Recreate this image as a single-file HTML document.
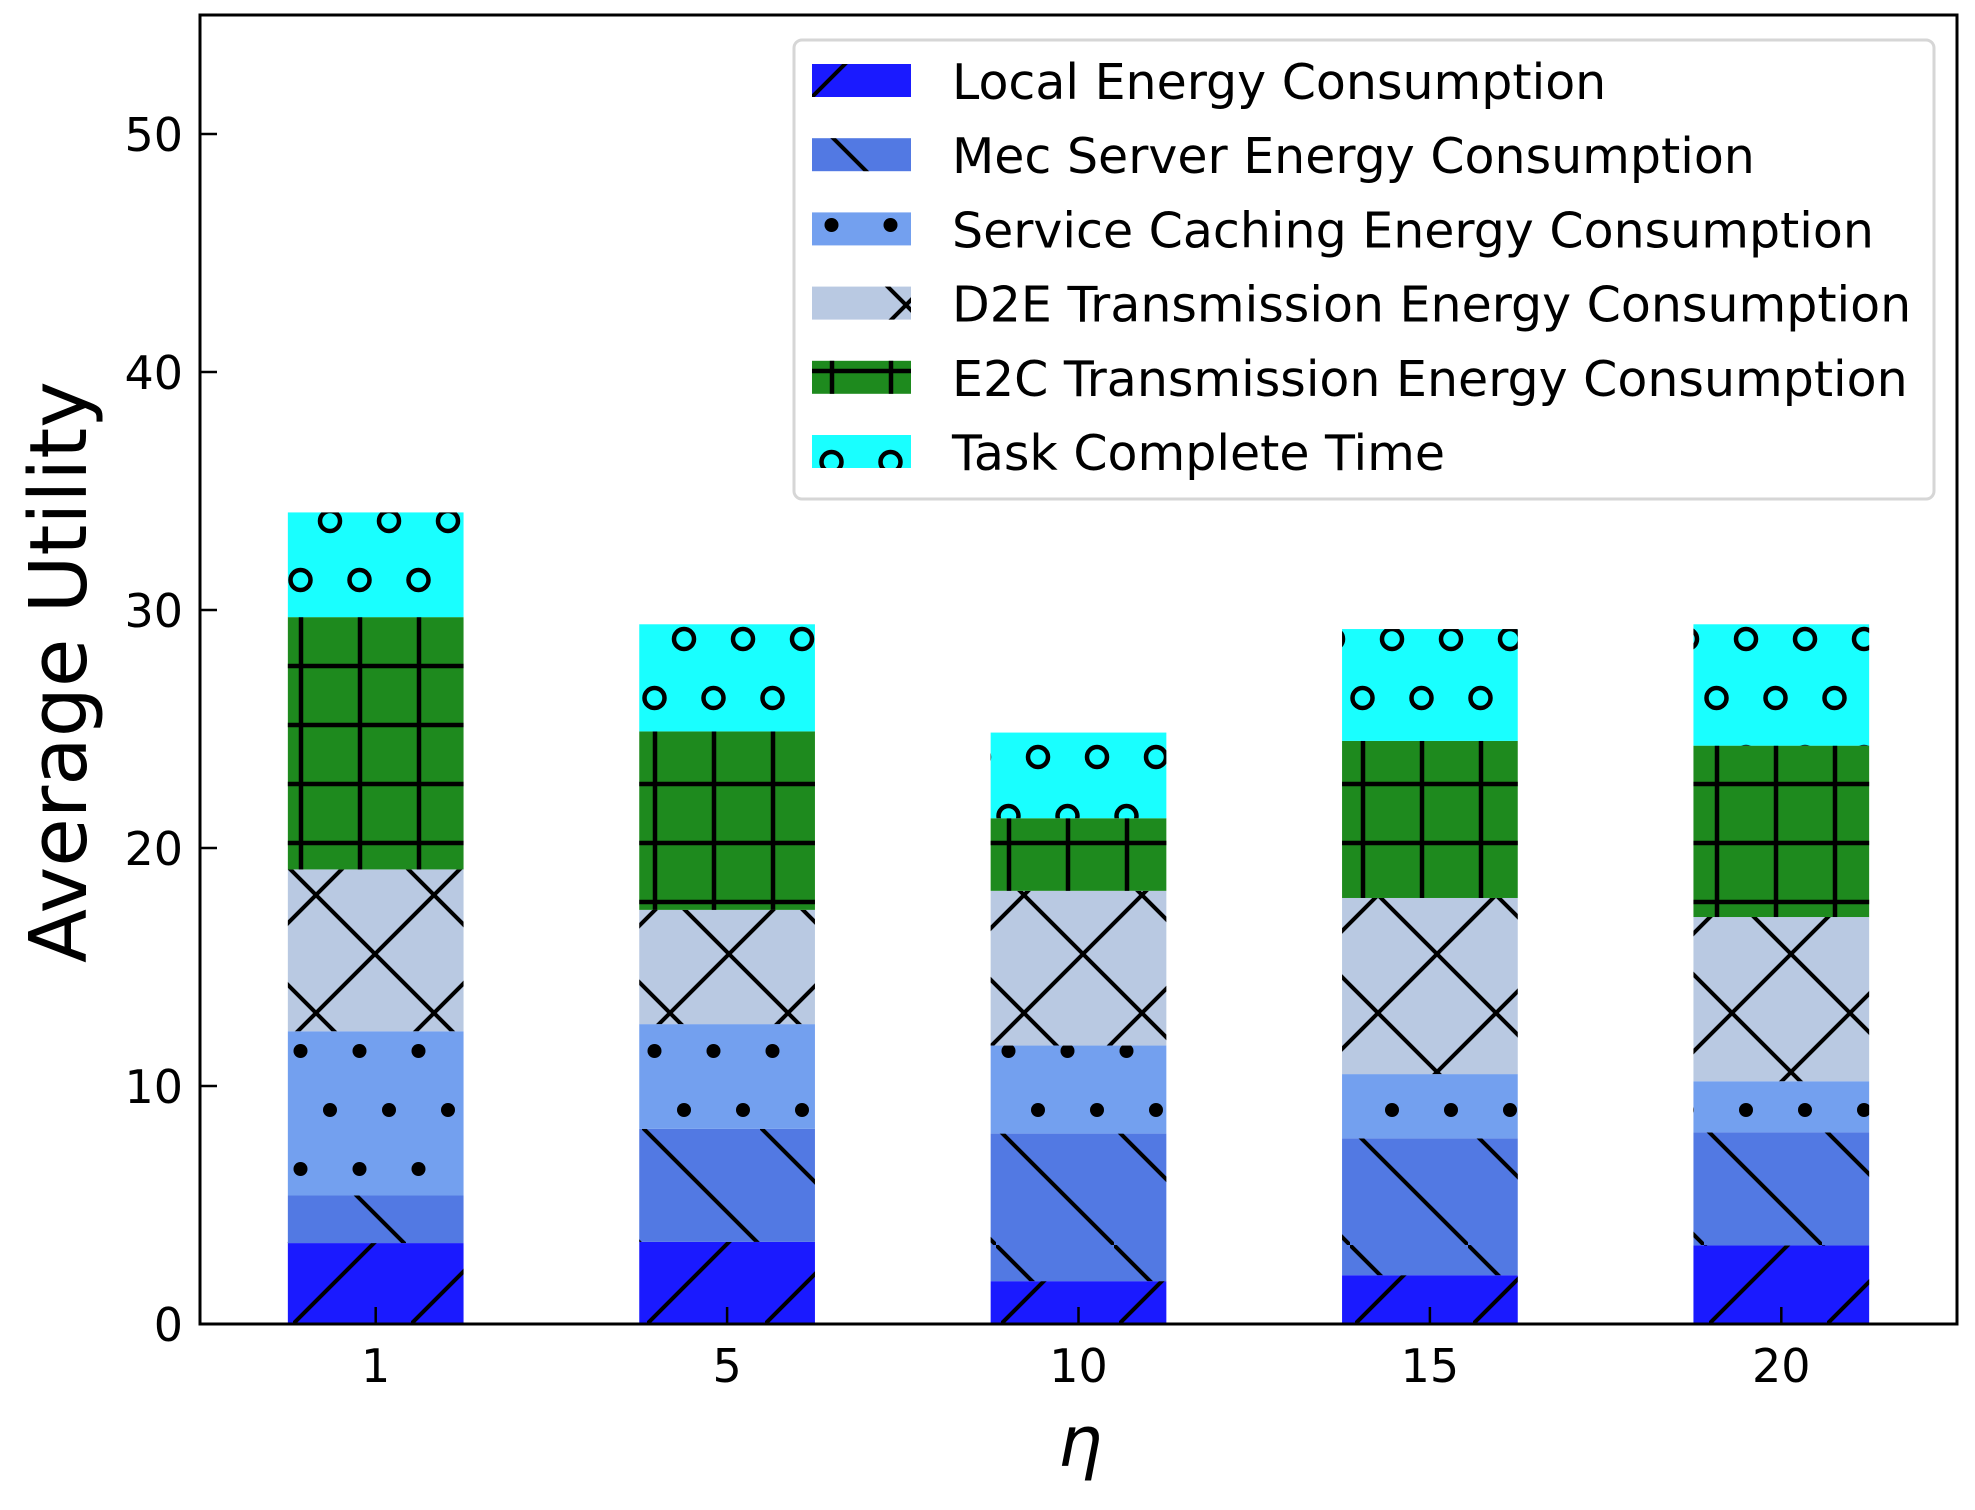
<!DOCTYPE html>
<html><head><meta charset="utf-8"><style>
body{margin:0;background:#fff;}
svg{display:block;font-family:"DejaVu Sans","Liberation Sans",sans-serif;}
</style></head><body>
<svg id="chart" width="1975" height="1510" viewBox="0 0 1975 1510" xmlns="http://www.w3.org/2000/svg">
<defs>
<pattern id="p-slash" patternUnits="userSpaceOnUse" x="293" y="1206" width="118" height="118">
<line x1="-10" y1="128" x2="128" y2="-10" stroke="#000" stroke-width="4"/>
</pattern>
<pattern id="p-back" patternUnits="userSpaceOnUse" x="406" y="1245" width="118" height="118">
<line x1="-10" y1="-10" x2="128" y2="128" stroke="#000" stroke-width="4"/>
</pattern>
<pattern id="p-dots" patternUnits="userSpaceOnUse" x="330" y="1110" width="59" height="118">
<circle cx="0" cy="0" r="7"/><circle cx="59" cy="0" r="7"/><circle cx="0" cy="118" r="7"/><circle cx="59" cy="118" r="7"/>
<circle cx="29.5" cy="59" r="7"/>
</pattern>
<pattern id="p-x" patternUnits="userSpaceOnUse" x="316" y="895" width="118" height="118">
<line x1="-10" y1="128" x2="128" y2="-10" stroke="#000" stroke-width="4"/>
<line x1="-10" y1="-10" x2="128" y2="128" stroke="#000" stroke-width="4"/>
</pattern>
<pattern id="p-plus" patternUnits="userSpaceOnUse" x="301" y="666" width="59" height="59">
<line x1="0" y1="0" x2="0" y2="59" stroke="#000" stroke-width="4.5"/>
<line x1="0" y1="0" x2="59" y2="0" stroke="#000" stroke-width="4.5"/>
<line x1="59" y1="0" x2="59" y2="59" stroke="#000" stroke-width="4.5"/>
<line x1="0" y1="59" x2="59" y2="59" stroke="#000" stroke-width="4.5"/>
</pattern>
<pattern id="p-o" patternUnits="userSpaceOnUse" x="330" y="521" width="59" height="118">
<g fill="none" stroke="#000" stroke-width="4.5">
<circle cx="0" cy="0" r="10"/><circle cx="59" cy="0" r="10"/><circle cx="0" cy="118" r="10"/><circle cx="59" cy="118" r="10"/>
<circle cx="29.5" cy="59" r="10"/></g>
</pattern>
</defs>
<g id="bars"></g>
<g id="axes"></g>
<g id="legend"></g>
</svg>
<script>
const categories = ["1", "5", "10", "15", "20"];
const seriesNames = ["Local Energy Consumption","Mec Server Energy Consumption","Service Caching Energy Consumption","D2E Transmission Energy Consumption","E2C Transmission Energy Consumption","Task Complete Time"];
const localEnergy = [3.4, 3.45, 1.8, 2.05, 3.3];
const mecEnergy = [2.0, 4.75, 6.2, 5.75, 4.75];
const cachingEnergy = [6.9, 4.4, 3.7, 2.7, 2.15];
const d2eEnergy = [6.8, 4.8, 6.5, 7.4, 6.9];
const e2cEnergy = [10.6, 7.5, 3.05, 6.6, 7.2];
const taskTime = [4.4, 4.5, 3.6, 4.7, 5.1];
const yTicks = [0, 10, 20, 30, 40, 50];

const colors = ["#1a1aff","#5279e3","#73a0ef","#b9c9e2","#1e8a1e","#19ffff"];
const pats = ["p-slash","p-back","p-dots","p-x","p-plus","p-o"];
const seriesData = [localEnergy, mecEnergy, cachingEnergy, d2eEnergy, e2cEnergy, taskTime];
const L=200, R=1957, T=15, B=1324, YMAX=55;
const NS="http://www.w3.org/2000/svg";
function yS(v){return B-(v/YMAX)*(B-T);}
function xS(i){const step=(R-L)/categories.length;return L+step*(i+0.5);}
const barW=((R-L)/categories.length)*0.5;
function mk(tag,attrs,parent){const e=document.createElementNS(NS,tag);for(const k in attrs)e.setAttribute(k,attrs[k]);parent.appendChild(e);return e;}
const gb=document.getElementById('bars');
categories.forEach((c,i)=>{
  let base=0;
  seriesData.forEach((s,j)=>{
    const v=s[i];
    const y0=yS(base), y1=yS(base+v);
    const r=mk('rect',{x:xS(i)-barW/2,y:y1,width:barW,height:y0-y1,fill:colors[j]},gb);
    
    
    const h=mk('rect',{x:xS(i)-barW/2,y:y1,width:barW,height:y0-y1,fill:'url(#'+pats[j]+')'},gb);
    
    
    base+=v;
  });
});
const ga=document.getElementById('axes');
const frame=mk('rect',{x:L,y:T,width:R-L,height:B-T,fill:'none',stroke:'#000',"stroke-width":3},ga);


yTicks.forEach(t=>{
  const y=yS(t);
  mk('line',{x1:L,y1:y,x2:L+17,y2:y,stroke:'#000','stroke-width':2.5},ga);
  const tx=mk('text',{x:183,y:y+17,'text-anchor':'end','font-size':46},ga);
  tx.textContent=t;
  
  
});
categories.forEach((c,i)=>{
  const x=xS(i);
  mk('line',{x1:x,y1:B,x2:x,y2:B-17,stroke:'#000','stroke-width':2.5},ga);
  const tx=mk('text',{x:x,y:1382,'text-anchor':'middle','font-size':46},ga);
  tx.textContent=c;
  
  
});
const yl=mk('text',{x:0,y:0,transform:'translate(86,672) rotate(-90)','text-anchor':'middle','font-size':79},ga);
yl.textContent='Average Utility';


const xl=mk('text',{x:1080,y:1466,'text-anchor':'middle','font-size':70,'font-style':'italic'},ga);
xl.textContent='η';


const gl=document.getElementById('legend');
const lb=mk('rect',{x:794,y:40,width:1140,height:459,rx:8,fill:'#fff','fill-opacity':0.85,stroke:'#d6d6d6','stroke-width':3},gl);


seriesNames.forEach((n,j)=>{
  const cy=81+j*74.2;
  const p=mk('rect',{x:812,y:cy-17,width:99,height:33,fill:colors[j]},gl);
  
  
  mk('rect',{x:812,y:cy-17,width:99,height:33,fill:'url(#'+pats[j]+')'},gl);
  const t=mk('text',{x:952,y:cy+18,'font-size':49},gl);
  t.textContent=n;
  
  
});
</script>
</body></html>
